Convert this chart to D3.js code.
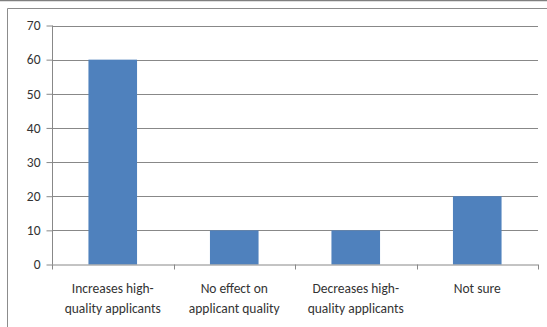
<!DOCTYPE html>
<html><head><meta charset="utf-8">
<script src="https://cdn.jsdelivr.net/npm/d3@7"></script>
<style>body{margin:0;background:#fff}svg{display:block}</style>
</head><body>
<script>
const categories = [["Increases high-","quality applicants"],["No effect  on","applicant quality"],["Decreases high-","quality applicants"],["Not sure"]];
const values = [60, 10, 10, 20];
const yTicks = [0,10,20,30,40,50,60,70];

(function(){
const W = 547, H = 327;
const svg = d3.select("body").append("svg").attr("width", W).attr("height", H);
const font = "Calibri, Carlito, 'Liberation Sans', Arial, sans-serif";

// outer frame pieces
svg.append("line").attr("x1",0).attr("x2",W).attr("y1",0.5).attr("y2",0.5).attr("stroke","#7f7f7f").attr("stroke-width",1.5);
svg.append("path").attr("d",`M7.5,${H} V8.5 H${W}`).attr("fill","none").attr("stroke","#8c8c8c").attr("stroke-width",1);

const pl = 52, pr = 538, pt = 25.5, pb = 264.5;
const x = d3.scaleBand().domain(d3.range(categories.length)).range([pl, pr]).paddingInner(0.6).paddingOuter(0.3);
const xb = d3.scaleBand().domain(d3.range(categories.length)).range([pl, pr]);
const y = d3.scaleLinear().domain([0,70]).range([pb, pt]);

// gridlines
svg.append("g").selectAll("line").data(yTicks.filter(d=>d>0)).join("line")
  .attr("x1", pl).attr("x2", pr).attr("y1", d=>Math.round(y(d))+0.5).attr("y2", d=>Math.round(y(d))+0.5)
  .attr("stroke","#888").attr("stroke-width",1);

// bars
svg.append("g").selectAll("rect").data(values).join("rect")
  .attr("x",(d,i)=>x(i)).attr("width",x.bandwidth())
  .attr("y",d=>y(d)).attr("height",d=>pb-y(d))
  .attr("fill","#4f81bd");

// y axis
const yAxis = svg.append("g").attr("transform",`translate(${pl+0.5},0)`)
  .call(d3.axisLeft(y).tickValues(yTicks).tickSize(6).tickPadding(6));
yAxis.select(".domain").attr("stroke","#888").attr("d",`M0,${pt}V${pb}`);
yAxis.selectAll(".tick line").attr("stroke","#888");
yAxis.selectAll("text").attr("font-family",font).attr("font-size",13.5).attr("fill","#333");

// x axis
svg.append("line").attr("x1",pl).attr("x2",pr).attr("y1",pb+0.5).attr("y2",pb+0.5).attr("stroke","#888");
const bounds = d3.range(categories.length+1).map(i=> i<categories.length ? xb(i) : pr);
svg.append("g").selectAll("line").data(bounds).join("line")
  .attr("x1",d=>Math.round(d)+0.5).attr("x2",d=>Math.round(d)+0.5).attr("y1",pb).attr("y2",pb+5)
  .attr("stroke","#888");

const lab = svg.append("g").selectAll("text").data(categories).join("text")
  .attr("x",(d,i)=>xb(i)+xb.bandwidth()/2).attr("y",293)
  .attr("text-anchor","middle").attr("font-family",font).attr("font-size",13.5).attr("fill","#333");
lab.selectAll("tspan").data(d=>d).join("tspan")
  .attr("x",function(){return this.parentNode.getAttribute("x");})
  .attr("dy",(d,i)=>i?19.5:0).text(d=>d);
})();
</script>
</body></html>
